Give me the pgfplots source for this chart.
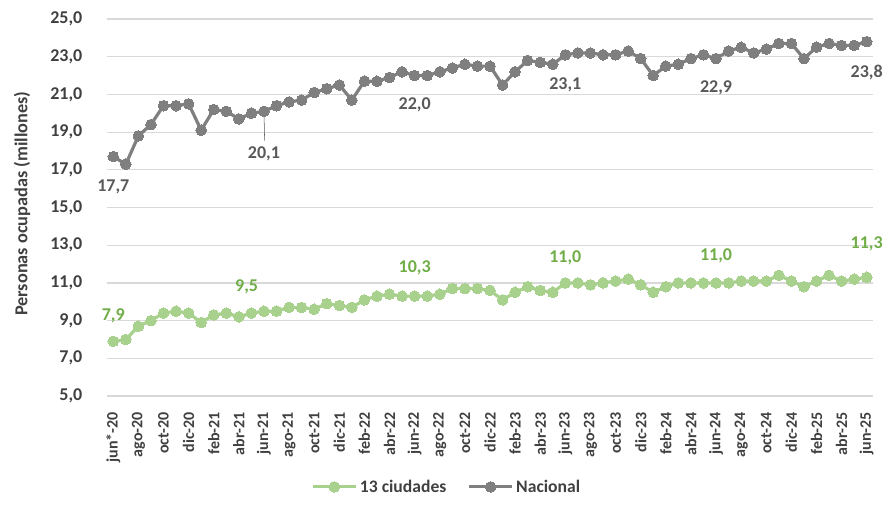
\documentclass[border=0pt]{standalone}
\usepackage{fontspec}
\setmainfont{Carlito}
\usepackage{pgfplots}
\usepackage{pgfplotstable}
\pgfplotsset{compat=1.18}
\definecolor{natgray}{HTML}{7F7F7F}
\definecolor{citygreen}{HTML}{A9D18E}
\definecolor{labgreen}{HTML}{70AD47}
\definecolor{labgray}{HTML}{595959}
\definecolor{gridgray}{HTML}{D9D9D9}
\definecolor{txtgray}{HTML}{404040}

\pgfplotstableread{
x nac ciu
0 17.7 7.9
1 17.3 8.0
2 18.8 8.7
3 19.4 9.0
4 20.4 9.4
5 20.4 9.5
6 20.5 9.4
7 19.1 8.9
8 20.2 9.3
9 20.1 9.4
10 19.7 9.2
11 20.0 9.4
12 20.1 9.5
13 20.4 9.5
14 20.6 9.7
15 20.7 9.7
16 21.1 9.6
17 21.3 9.9
18 21.5 9.8
19 20.7 9.7
20 21.7 10.1
21 21.7 10.3
22 21.9 10.4
23 22.2 10.3
24 22.0 10.3
25 22.0 10.3
26 22.2 10.4
27 22.4 10.7
28 22.6 10.7
29 22.5 10.7
30 22.5 10.6
31 21.5 10.1
32 22.2 10.5
33 22.8 10.8
34 22.7 10.6
35 22.6 10.5
36 23.1 11.0
37 23.2 11.0
38 23.2 10.9
39 23.1 11.0
40 23.1 11.1
41 23.3 11.2
42 22.9 10.9
43 22.0 10.5
44 22.5 10.8
45 22.6 11.0
46 22.9 11.0
47 23.1 11.0
48 22.9 11.0
49 23.3 11.0
50 23.5 11.1
51 23.2 11.1
52 23.4 11.1
53 23.7 11.4
54 23.7 11.1
55 22.9 10.8
56 23.5 11.1
57 23.7 11.4
58 23.6 11.1
59 23.6 11.2
60 23.8 11.3
}\datatable

\begin{document}
\begin{tikzpicture}
\useasboundingbox (-80.25pt,-84pt) rectangle (585.75pt,297pt);
\begin{axis}[
  at={(0,0)}, anchor=south west,
  scale only axis,
  width=574.5pt, height=282.75pt,
  xmin=-0.5, xmax=60.5,
  ymin=5, ymax=25,
  clip=false,
  ytick={5,7,...,25},
  xtick={0,2,...,60},
  xticklabels={jun*-20,ago-20,oct-20,dic-20,feb-21,abr-21,jun-21,ago-21,oct-21,dic-21,feb-22,abr-22,jun-22,ago-22,oct-22,dic-22,feb-23,abr-23,jun-23,ago-23,oct-23,dic-23,feb-24,abr-24,jun-24,ago-24,oct-24,dic-24,feb-25,abr-25,jun-25},
  axis line style={draw=none},
  tick style={draw=none},
  ymajorgrids,
  major grid style={gridgray, line width=0.9pt},
  /pgf/number format/.cd, fixed, fixed zerofill, precision=1, use comma, assume math mode=true,
  /pgfplots/.cd,
  yticklabel style={font=\bfseries\fontsize{13.5}{15}\selectfont, text=txtgray, xshift=-15pt},
  xticklabel style={font=\bfseries\fontsize{12}{13}\selectfont, text=txtgray, rotate=90, anchor=east, xshift=-8.5pt},
  ylabel={Personas ocupadas (millones)},
  ylabel style={at={(axis description cs:-0.111,0.51)}, anchor=center, font=\bfseries\fontsize{13.7}{15}\selectfont, text=txtgray},
  legend style={at={(axis description cs:0.444,-0.241)}, anchor=center, draw=none, fill=none,
    legend columns=2, font=\bfseries\fontsize{13.2}{15}\selectfont, text=txtgray,
    /tikz/every even column/.append style={column sep=14pt}},
  legend image code/.code={\draw[mark repeat=2,mark phase=2,#1] plot coordinates {(0pt,0pt)(16pt,0pt)(32pt,0pt)};},
]
\addplot[citygreen, line width=2.4pt, mark=*, mark size=4pt, mark options={fill=citygreen, draw=citygreen, line width=0pt}] table[x=x, y=ciu] {\datatable};
\addlegendentry{13 ciudades}
\addplot[natgray, line width=2.4pt, mark=*, mark size=4pt, mark options={fill=natgray, draw=natgray, line width=0pt}] table[x=x, y=nac] {\datatable};
\addlegendentry{Nacional}

\begin{scope}[every node/.style={font=\bfseries\fontsize{13.5}{15}\selectfont, text=labgray}]
\node at (axis cs:0,17.7) [yshift=-23pt] {17,7};
\draw[labgray, line width=0.4pt] (axis cs:12,20.1) -- ++(0.5pt,-22pt);
\node at (axis cs:12,20.1) [yshift=-32pt] {20,1};
\node at (axis cs:24,22.0) [yshift=-22pt] {22,0};
\node at (axis cs:36,23.1) [yshift=-22.5pt] {23,1};
\node at (axis cs:48,22.9) [yshift=-22pt] {22,9};
\node at (axis cs:60,23.8) [yshift=-23pt] {23,8};
\end{scope}
\begin{scope}[every node/.style={font=\bfseries\fontsize{13.5}{15}\selectfont, text=labgreen}]
\node at (axis cs:0,7.9) [yshift=19pt] {7,9};
\node at (axis cs:12,9.5) [yshift=18pt, xshift=-13pt] {9,5};
\node at (axis cs:24,10.3) [yshift=21pt] {10,3};
\node at (axis cs:36,11.0) [yshift=19pt] {11,0};
\node at (axis cs:48,11.0) [yshift=20pt] {11,0};
\node at (axis cs:60,11.3) [yshift=25pt] {11,3};
\end{scope}
\end{axis}
\end{tikzpicture}
\end{document}
